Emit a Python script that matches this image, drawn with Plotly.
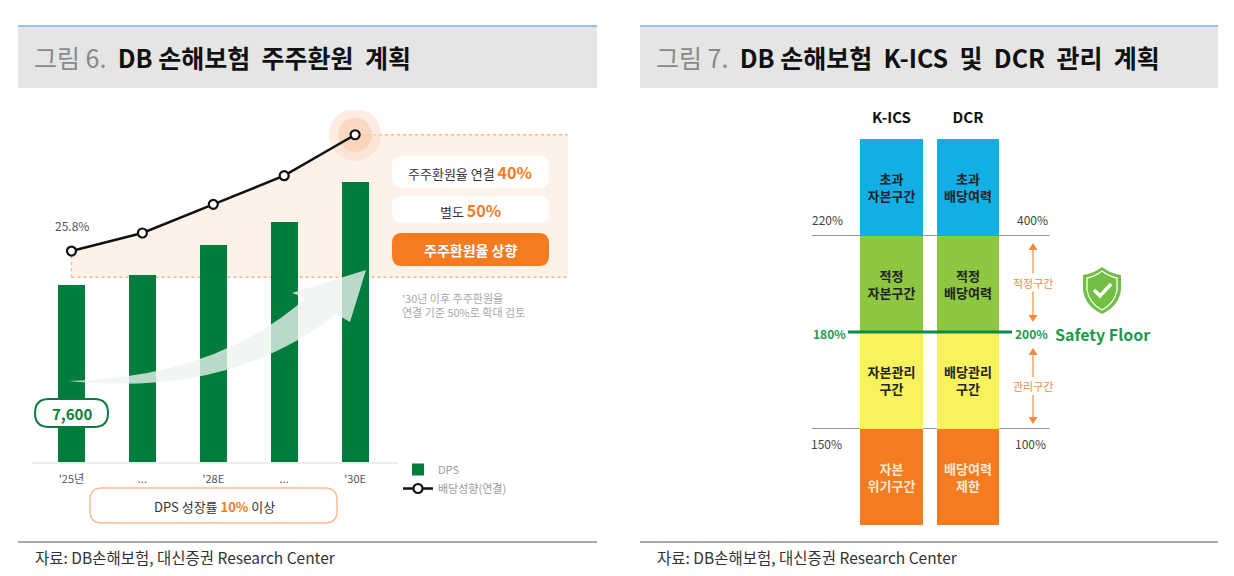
import plotly.graph_objects as go

# the page body has an 8px margin, so the figure is laid out in window pixels minus OFF
OFF = 8
W, H = 1234 - OFF, 576 - OFF
FONT = "Noto Sans CJK KR"
GREEN = "#007D3C"
ORANGE = "#F47B20"

# left chart: DPS and payout ratio
years = ["'25년", "...", "'28E", "...", "'30E"]
dps = [7600, 8000, 9300, 10300, 12000]
payout = [25.8, 28.0, 31.5, 35.0, 40.0]
payout_floor = 22.6
target_consol = "40%"
target_sep = "50%"
dps_growth = "10%"

# right chart: K-ICS / DCR zones (bottom -> top)
columns = ["K-ICS", "DCR"]
zone_kics = ["자본<br>위기구간", "자본관리<br>구간", "적정<br>자본구간", "초과<br>자본구간"]
zone_dcr = ["배당여력<br>제한", "배당관리<br>구간", "적정<br>배당여력", "초과<br>배당여력"]
zone_height = [1, 1, 1, 1]
zone_colors = ["#F47B20", "#F8F25C", "#8DC63F", "#12AEE6"]
zone_text_colors = ["#FDE6D4", "#222222", "#222222", "#222222"]
kics_levels = ["150%", "180%", "220%"]
dcr_levels = ["100%", "200%", "400%"]


def px(x, y):
    return (x - OFF) / W, 1 - (y - OFF) / H


def xdom(a, b):
    return [px(a, 0)[0], px(b, 0)[0]]


def ydom(bottom, top):
    return [px(0, bottom)[1], px(0, top)[1]]


def pxpath(s):
    out, nums = [], []
    for t in s.split():
        if t.isalpha():
            out.append(t)
        else:
            nums.append(float(t))
            if len(nums) == 2:
                x, y = px(*nums)
                out.append(f"{x:.5f},{y:.5f}")
                nums = []
    return " ".join(out)


def rrect(x0, y0, x1, y1, r):
    return pxpath(f"M {x0+r} {y0} L {x1-r} {y0} Q {x1} {y0} {x1} {y0+r} L {x1} {y1-r} "
                  f"Q {x1} {y1} {x1-r} {y1} L {x0+r} {y1} Q {x0} {y1} {x0} {y1-r} "
                  f"L {x0} {y0+r} Q {x0} {y0} {x0+r} {y0} Z")


shapes = []
annots = []


def pshape(path, fill=None, line_color=None, line_width=0, layer="above"):
    shapes.append(dict(type="path", xref="paper", yref="paper", path=path, layer=layer,
                       fillcolor=fill or "rgba(0,0,0,0)",
                       line=dict(color=line_color or "rgba(0,0,0,0)", width=line_width)))


def pline(x0, y0, x1, y1, color, width=1, dash="solid", layer="above"):
    a, b = px(x0, y0)
    c, d = px(x1, y1)
    shapes.append(dict(type="line", xref="paper", yref="paper", x0=a, y0=b, x1=c, y1=d,
                       layer=layer, line=dict(color=color, width=width, dash=dash)))


def note(x, y, text, size=12, color="#333", xanchor="center", align="center", weight="normal"):
    a, b = px(x, y)
    annots.append(dict(xref="paper", yref="paper", x=a, y=b, text=text, showarrow=False,
                       xanchor=xanchor, yanchor="middle", align=align,
                       font=dict(family=FONT, size=size, color=color, weight=weight)))


fig = go.Figure()

# ---- left chart traces
fig.add_trace(go.Bar(
    x=list(range(len(dps))), y=dps, name="DPS", width=0.38,
    marker=dict(color=GREEN, line=dict(width=0)), xaxis="x", yaxis="y", hoverinfo="skip",
))
fig.add_trace(go.Scatter(
    x=list(range(len(payout))), y=payout, name="배당성향(연결)", mode="lines+markers",
    line=dict(color="#111111", width=2.5),
    marker=dict(size=9, color="white", line=dict(color="#111111", width=2.2)),
    xaxis="x", yaxis="y2", hoverinfo="skip",
))

# ---- right chart traces
for i in range(len(zone_height)):
    fig.add_trace(go.Bar(
        x=[0, 1], y=[zone_height[i]] * 2, text=[zone_kics[i], zone_dcr[i]],
        width=0.82, marker=dict(color=zone_colors[i], line=dict(width=0)),
        textposition="inside", insidetextanchor="middle", constraintext="none",
        textfont=dict(family=FONT, size=13, color=zone_text_colors[i], weight="bold"),
        xaxis="x3", yaxis="y3", showlegend=False, hoverinfo="skip",
    ))

# ---- headers / footers
for x0, x1, title in [(18, 597, "DB 손해보험&nbsp;&nbsp;주주환원&nbsp;&nbsp;계획", ),
                      (640, 1218, "DB 손해보험&nbsp;&nbsp;K-ICS&nbsp;&nbsp;및&nbsp;&nbsp;DCR&nbsp;&nbsp;관리&nbsp;&nbsp;계획")]:
    pshape(pxpath(f"M {x0} 27 L {x1} 27 L {x1} 88 L {x0} 88 Z"), fill="#E5E5E5", layer="below")
    pline(x0, 26, x1, 26, "#9DC0E8", 2)
    num = "6" if x0 < 600 else "7"
    note(x0 + 14, 57, f"<span style='color:#8A8A8A'>그림 {num}.</span>&nbsp;&nbsp;<b>{title}</b>",
         size=25, color="#111", xanchor="left")
    pline(x0, 542, x1, 542, "#555555", 1)
    note(x0 + 15, 557, "자료: DB손해보험, 대신증권 Research Center", size=15.5, color="#333", xanchor="left")

# ---- left chart decorations
last = len(payout) - 1
peach = "M 0 %s " % payout_floor + " ".join(f"L {i} {v}" for i, v in enumerate(payout))
peach += f" L 7 {payout[-1]} L 7 {payout_floor} Z"
shapes.append(dict(type="path", xref="x", yref="y2", path=peach, layer="below",
                   fillcolor="#FDF1E8", line=dict(width=0)))
dot = dict(color="#F7B58A", width=1.3, dash="dot")
shapes.append(dict(type="line", xref="x", yref="y2", x0=last, x1=7, y0=payout[-1], y1=payout[-1],
                   layer="below", line=dot))
shapes.append(dict(type="line", xref="x", yref="y2", x0=0, x1=7, y0=payout_floor, y1=payout_floor,
                   layer="below", line=dot))
shapes.append(dict(type="line", xref="x", yref="y2", x0=0, x1=0, y0=payout_floor, y1=payout[0],
                   layer="below", line=dot))
for r, c in [(26, "rgba(252,218,196,0.5)"), (17, "rgba(250,196,162,0.5)")]:
    shapes.append(dict(type="circle", xref="x", yref="y2", xsizemode="pixel", ysizemode="pixel",
                       xanchor=last, yanchor=payout[-1], x0=-r, x1=r, y0=-r, y1=r,
                       layer="below", fillcolor=c, line=dict(width=0)))

pline(32, 463, 398, 463, "#E6E6E6", 1.5, layer="below")

# curved arrow
pshape(pxpath("M 68 381 Q 215 378 306 298 L 292 293 L 366 270 L 350 322 L 336 314 Q 230 398 68 381 Z"),
       fill="rgba(238,243,240,0.78)")

note(72, 225, f"{payout[0]}%", size=12, color="#555")

pshape(rrect(35, 399, 108, 427, 14), fill="white", line_color="#0A7D3E", line_width=2)
note(71.5, 413, f"<b>{dps[0]:,}</b>", size=15, color="#0A7D3E")

pshape(rrect(392, 156, 549, 188, 10), fill="white")
note(470, 172, f"주주환원율 연결 <b><span style='color:{ORANGE};font-size:16px'>{target_consol}</span></b>",
     size=13, color="#333")
pshape(rrect(392, 196, 549, 223, 10), fill="white")
note(470, 210, f"별도 <b><span style='color:{ORANGE};font-size:16px'>{target_sep}</span></b>",
     size=13, color="#333")
pshape(rrect(392, 233, 549, 266, 10), fill=ORANGE)
note(470, 249.5, "<b>주주환원율 상향</b>", size=14, color="white")

note(400, 305, "'30년 이후 주주환원율<br>연결 기준 50%로 확대 검토", size=11, color="#A8A8A8",
     xanchor="left", align="left")

pshape(rrect(90, 488, 337, 523, 12), fill="white", line_color="#F9BC93", line_width=1.5)
note(214, 506, f"DPS 성장률 <b><span style='color:{ORANGE}'>{dps_growth}</span></b> 이상", size=13, color="#333")

# ---- right chart decorations
xr = dict(xref="x3", yref="y3", layer="below")
shapes.append(dict(type="line", x0=-1.04, x1=2.07, y0=3, y1=3, line=dict(color="#999999", width=1.2), **xr))
shapes.append(dict(type="line", x0=-1.04, x1=2.07, y0=1, y1=1, line=dict(color="#999999", width=1.2), **xr))
shapes.append(dict(type="line", xref="x3", yref="y3", x0=-0.57, x1=1.575, y0=2, y1=2,
                   line=dict(color="#13894A", width=3)))

note(828, 220, kics_levels[2], size=12, color="#444")
note(1032, 220, dcr_levels[2], size=12, color="#444")
note(826, 443, kics_levels[0], size=12, color="#444")
note(1030, 443, dcr_levels[0], size=12, color="#444")
note(829, 333, f"<b>{kics_levels[1]}</b>", size=12, color="#1B9A4D")
note(1031, 333, f"<b>{dcr_levels[1]}</b>", size=12, color="#1B9A4D")
note(1102, 334, "<b>Safety Floor</b>", size=16, color="#1B9A4D")

# orange range arrows
for y0, y1, label in [(243, 322, "적정구간"), (348, 424, "관리구간")]:
    pline(1033, y0 + 5, 1033, y1 - 5, "#F58A3E", 1.2)
    pshape(pxpath(f"M 1028.5 {y0+7} L 1037.5 {y0+7} L 1033 {y0} Z"), fill="#F58A3E")
    pshape(pxpath(f"M 1028.5 {y1-7} L 1037.5 {y1-7} L 1033 {y1} Z"), fill="#F58A3E")
    mid = (y0 + y1) / 2
    pshape(pxpath(f"M 1008 {mid-9} L 1058 {mid-9} L 1058 {mid+9} L 1008 {mid+9} Z"), fill="white")
    note(1033, mid, label, size=11, color="#F58A3E")

# shield icon
pshape(pxpath("M 1102 267 Q 1093 274 1083 275 L 1083 290 Q 1085 306 1102 314 "
              "Q 1119 306 1121 290 L 1121 275 Q 1111 274 1102 267 Z"), fill="#72BF44")
pshape(pxpath("M 1102 271 Q 1094 277 1087 278 L 1087 290 Q 1089 303 1102 310 "
              "Q 1115 303 1117 290 L 1117 278 Q 1110 277 1102 271 Z"), line_color="white", line_width=1.3)
shapes.append(dict(type="path", xref="paper", yref="paper", path=pxpath("M 1094 290 L 1100 296 L 1111 284"),
                   line=dict(color="white", width=3.5)))

fig.update_layout(
    width=W, height=H, margin=dict(l=0, r=0, t=0, b=0),
    paper_bgcolor="white", plot_bgcolor="rgba(0,0,0,0)",
    barmode="stack", font=dict(family=FONT),
    xaxis=dict(domain=xdom(32, 600), range=[-0.557, 7.454], anchor="y",
               tickvals=list(range(len(years))), ticktext=years, ticks="", ticklabelstandoff=9,
               tickfont=dict(size=11, color="#555"), showgrid=False, zeroline=False, showline=False),
    yaxis=dict(domain=ydom(462, 110), range=[0, 15090], visible=False, anchor="x"),
    yaxis2=dict(overlaying="y", range=[0.04, 43.02], visible=False, anchor="x"),
    xaxis3=dict(domain=xdom(800, 1060), range=[-1.196, 2.203], anchor="y3", side="top",
                tickvals=[0, 1], ticktext=columns, ticks="", ticklabelstandoff=12,
                tickfont=dict(size=15, color="#111", weight="bold"),
                showgrid=False, zeroline=False, showline=False),
    yaxis3=dict(domain=ydom(525, 139), range=[0, 4], visible=False, anchor="x3"),
    showlegend=True,
    legend=dict(x=px(398, 0)[0], y=px(0, 455)[1], xanchor="left", yanchor="top",
                bgcolor="rgba(0,0,0,0)", traceorder="normal",
                font=dict(size=11, color="#999"), itemwidth=30, tracegroupgap=2),
    shapes=shapes, annotations=annots,
)

fig.write_html("out.html")
